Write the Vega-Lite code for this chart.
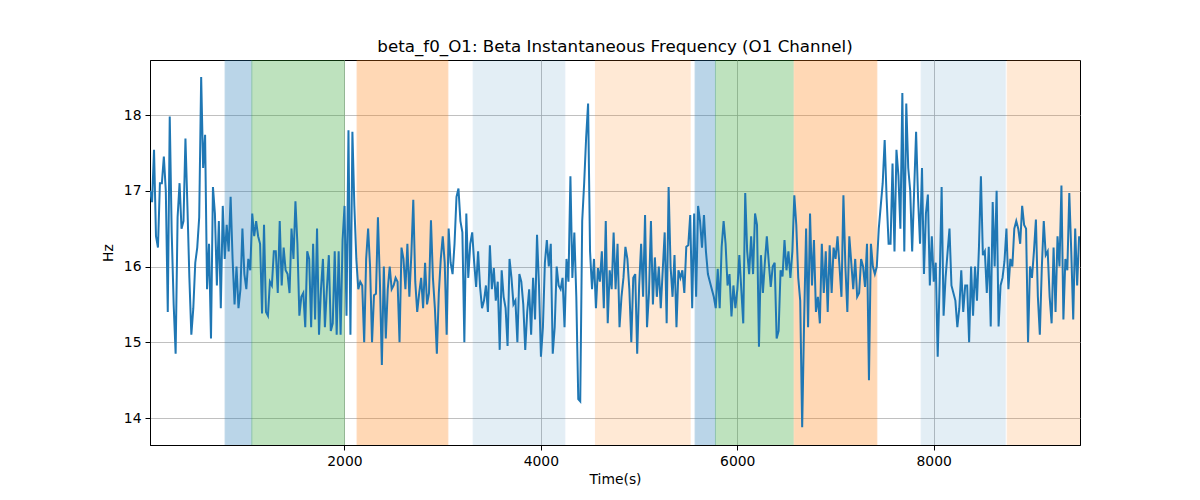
{
  "$schema": "https://vega.github.io/schema/vega-lite/v6.json",
  "width": 930,
  "height": 385,
  "autosize": "none",
  "padding": {"left": 150, "top": 60, "right": 120, "bottom": 55},
  "background": "white",
  "config": {
    "font": "DejaVu Sans",
    "view": {"stroke": "black", "strokeWidth": 1},
    "axis": {
      "domainColor": "black",
      "tickColor": "black",
      "tickSize": 5,
      "labelFontSize": 13.9,
      "labelColor": "black",
      "labelFont": "DejaVu Sans",
      "labelPadding": 4,
      "titleFontSize": 13.9,
      "titleFontWeight": "normal",
      "titleColor": "black",
      "titleFont": "DejaVu Sans",
      "gridColor": "#b0b0b0",
      "gridWidth": 0.8
    }
  },
  "title": {
    "text": "beta_f0_O1: Beta Instantaneous Frequency (O1 Channel)",
    "fontSize": 16.7,
    "fontWeight": "normal",
    "font": "DejaVu Sans",
    "color": "black",
    "offset": 4
  },
  "datasets": {
    "spans": [
      {"start": 785, "end": 1057, "kind": "blue"},
      {"start": 1057, "end": 2000, "kind": "green"},
      {"start": 2129, "end": 3053, "kind": "orange"},
      {"start": 3311, "end": 4244, "kind": "blue_light"},
      {"start": 4556, "end": 5520, "kind": "orange_light"},
      {"start": 5571, "end": 5778, "kind": "blue"},
      {"start": 5778, "end": 6569, "kind": "green"},
      {"start": 6580, "end": 7421, "kind": "orange"},
      {"start": 7873, "end": 8728, "kind": "blue_light"},
      {"start": 8749, "end": 9490, "kind": "orange_light"}
    ],
    "series": [
      {"t":21,"hz":17.0},{"t":41,"hz":16.85},{"t":61,"hz":17.54},{"t":81,"hz":16.4},{"t":101,"hz":16.25},{"t":121,"hz":17.1},{"t":141,"hz":17.1},{"t":161,"hz":17.45},{"t":181,"hz":17.0},{"t":201,"hz":15.4},
      {"t":221,"hz":17.98},{"t":241,"hz":16.45},{"t":261,"hz":15.5},{"t":281,"hz":14.85},{"t":301,"hz":16.65},{"t":321,"hz":17.1},{"t":341,"hz":16.5},{"t":361,"hz":16.6},{"t":381,"hz":17.69},{"t":401,"hz":16.8},
      {"t":421,"hz":15.85},{"t":441,"hz":15.1},{"t":461,"hz":15.45},{"t":481,"hz":16.05},{"t":501,"hz":16.25},{"t":521,"hz":16.65},{"t":541,"hz":18.5},{"t":561,"hz":17.3},{"t":581,"hz":17.74},{"t":601,"hz":15.7},
      {"t":621,"hz":16.3},{"t":641,"hz":15.05},{"t":661,"hz":17.05},{"t":681,"hz":16.7},{"t":701,"hz":15.75},{"t":721,"hz":16.6},{"t":741,"hz":15.45},{"t":761,"hz":16.8},{"t":781,"hz":16.1},{"t":801,"hz":16.55},
      {"t":821,"hz":16.2},{"t":841,"hz":16.92},{"t":861,"hz":16.1},{"t":881,"hz":15.5},{"t":901,"hz":16.0},{"t":921,"hz":15.45},{"t":941,"hz":15.7},{"t":961,"hz":16.5},{"t":981,"hz":15.9},{"t":1001,"hz":15.7},
      {"t":1021,"hz":16.1},{"t":1041,"hz":15.95},{"t":1061,"hz":16.7},{"t":1081,"hz":16.4},{"t":1101,"hz":16.6},{"t":1121,"hz":16.4},{"t":1141,"hz":16.3},{"t":1161,"hz":15.38},{"t":1181,"hz":16.55},{"t":1201,"hz":15.4},
      {"t":1221,"hz":15.35},{"t":1241,"hz":15.8},{"t":1261,"hz":15.75},{"t":1281,"hz":16.2},{"t":1301,"hz":16.2},{"t":1321,"hz":15.65},{"t":1341,"hz":16.6},{"t":1361,"hz":15.75},{"t":1381,"hz":16.25},{"t":1401,"hz":15.95},
      {"t":1421,"hz":15.9},{"t":1441,"hz":15.65},{"t":1461,"hz":16.5},{"t":1481,"hz":16.1},{"t":1501,"hz":16.86},{"t":1521,"hz":16.3},{"t":1541,"hz":15.35},{"t":1561,"hz":15.6},{"t":1581,"hz":15.65},{"t":1601,"hz":15.2},
      {"t":1621,"hz":16.2},{"t":1641,"hz":16.1},{"t":1661,"hz":15.2},{"t":1681,"hz":16.3},{"t":1701,"hz":15.3},{"t":1721,"hz":16.5},{"t":1741,"hz":15.1},{"t":1761,"hz":15.7},{"t":1781,"hz":16.1},{"t":1801,"hz":15.2},
      {"t":1821,"hz":15.7},{"t":1841,"hz":16.15},{"t":1861,"hz":15.15},{"t":1881,"hz":15.25},{"t":1901,"hz":16.2},{"t":1921,"hz":15.1},{"t":1941,"hz":16.2},{"t":1961,"hz":15.1},{"t":1981,"hz":16.35},{"t":2001,"hz":16.8},
      {"t":2021,"hz":15.35},{"t":2041,"hz":17.8},{"t":2061,"hz":15.1},{"t":2081,"hz":17.78},{"t":2101,"hz":16.8},{"t":2121,"hz":16.1},{"t":2141,"hz":15.7},{"t":2161,"hz":15.8},{"t":2181,"hz":15.75},{"t":2201,"hz":15.0},
      {"t":2221,"hz":16.1},{"t":2241,"hz":16.5},{"t":2261,"hz":16.0},{"t":2281,"hz":15.0},{"t":2301,"hz":15.62},{"t":2321,"hz":15.64},{"t":2341,"hz":16.65},{"t":2361,"hz":15.8},{"t":2381,"hz":14.7},{"t":2401,"hz":16.0},
      {"t":2421,"hz":15.05},{"t":2441,"hz":15.7},{"t":2461,"hz":16.0},{"t":2481,"hz":15.7},{"t":2501,"hz":15.75},{"t":2521,"hz":15.85},{"t":2541,"hz":15.8},{"t":2561,"hz":15.0},{"t":2581,"hz":16.25},{"t":2601,"hz":16.1},
      {"t":2621,"hz":15.7},{"t":2641,"hz":16.3},{"t":2661,"hz":15.6},{"t":2681,"hz":16.15},{"t":2701,"hz":16.88},{"t":2721,"hz":15.8},{"t":2741,"hz":15.4},{"t":2761,"hz":15.65},{"t":2781,"hz":15.85},{"t":2801,"hz":15.45},
      {"t":2821,"hz":16.05},{"t":2841,"hz":15.5},{"t":2861,"hz":15.65},{"t":2881,"hz":16.61},{"t":2901,"hz":15.85},{"t":2921,"hz":15.45},{"t":2941,"hz":14.85},{"t":2961,"hz":15.65},{"t":2981,"hz":16.1},{"t":3001,"hz":16.4},
      {"t":3021,"hz":16.05},{"t":3041,"hz":15.1},{"t":3061,"hz":16.5},{"t":3081,"hz":16.05},{"t":3101,"hz":15.9},{"t":3121,"hz":16.3},{"t":3141,"hz":16.92},{"t":3161,"hz":17.03},{"t":3181,"hz":16.6},{"t":3201,"hz":16.45},
      {"t":3221,"hz":15.0},{"t":3241,"hz":16.7},{"t":3261,"hz":15.85},{"t":3281,"hz":16.3},{"t":3301,"hz":16.45},{"t":3321,"hz":16.05},{"t":3341,"hz":15.73},{"t":3361,"hz":16.2},{"t":3381,"hz":15.73},{"t":3401,"hz":15.45},
      {"t":3421,"hz":15.55},{"t":3441,"hz":15.75},{"t":3461,"hz":15.4},{"t":3481,"hz":16.28},{"t":3501,"hz":15.7},{"t":3521,"hz":15.98},{"t":3541,"hz":15.55},{"t":3561,"hz":15.8},{"t":3581,"hz":14.9},{"t":3601,"hz":15.95},
      {"t":3621,"hz":15.6},{"t":3641,"hz":15.45},{"t":3661,"hz":14.95},{"t":3681,"hz":16.1},{"t":3701,"hz":15.85},{"t":3721,"hz":15.5},{"t":3741,"hz":15.55},{"t":3761,"hz":15.0},{"t":3781,"hz":15.9},{"t":3801,"hz":15.8},
      {"t":3821,"hz":15.5},{"t":3841,"hz":14.9},{"t":3861,"hz":15.4},{"t":3881,"hz":15.7},{"t":3901,"hz":15.1},{"t":3921,"hz":15.85},{"t":3941,"hz":15.3},{"t":3961,"hz":16.42},{"t":3981,"hz":15.75},{"t":4001,"hz":14.81},
      {"t":4021,"hz":15.2},{"t":4041,"hz":16.05},{"t":4061,"hz":16.35},{"t":4081,"hz":16.0},{"t":4101,"hz":16.3},{"t":4121,"hz":14.85},{"t":4141,"hz":15.2},{"t":4161,"hz":16.0},{"t":4181,"hz":15.75},{"t":4201,"hz":15.7},
      {"t":4221,"hz":15.85},{"t":4241,"hz":15.2},{"t":4261,"hz":16.1},{"t":4281,"hz":15.8},{"t":4301,"hz":17.19},{"t":4321,"hz":15.85},{"t":4341,"hz":16.45},{"t":4361,"hz":15.6},{"t":4381,"hz":14.25},{"t":4401,"hz":14.22},
      {"t":4421,"hz":16.6},{"t":4441,"hz":17.1},{"t":4461,"hz":17.7},{"t":4481,"hz":18.15},{"t":4501,"hz":16.2},{"t":4521,"hz":15.7},{"t":4541,"hz":16.1},{"t":4561,"hz":15.45},{"t":4581,"hz":15.98},{"t":4601,"hz":15.8},
      {"t":4621,"hz":16.2},{"t":4641,"hz":15.45},{"t":4661,"hz":16.6},{"t":4681,"hz":15.25},{"t":4701,"hz":15.95},{"t":4721,"hz":15.7},{"t":4741,"hz":16.45},{"t":4761,"hz":15.7},{"t":4781,"hz":16.3},{"t":4801,"hz":15.2},
      {"t":4821,"hz":15.6},{"t":4841,"hz":15.85},{"t":4861,"hz":16.26},{"t":4881,"hz":16.1},{"t":4901,"hz":15.7},{"t":4921,"hz":15.0},{"t":4941,"hz":15.85},{"t":4961,"hz":15.9},{"t":4981,"hz":14.85},{"t":5001,"hz":15.75},
      {"t":5021,"hz":16.3},{"t":5041,"hz":15.6},{"t":5061,"hz":16.68},{"t":5081,"hz":15.2},{"t":5101,"hz":15.65},{"t":5121,"hz":16.6},{"t":5141,"hz":15.5},{"t":5161,"hz":16.12},{"t":5181,"hz":15.6},{"t":5201,"hz":16.0},
      {"t":5221,"hz":15.45},{"t":5241,"hz":15.95},{"t":5261,"hz":16.45},{"t":5281,"hz":15.25},{"t":5301,"hz":17.05},{"t":5321,"hz":16.0},{"t":5341,"hz":15.6},{"t":5361,"hz":16.15},{"t":5381,"hz":15.2},{"t":5401,"hz":15.95},
      {"t":5421,"hz":15.85},{"t":5441,"hz":15.95},{"t":5461,"hz":15.65},{"t":5481,"hz":16.26},{"t":5501,"hz":16.28},{"t":5521,"hz":16.68},{"t":5541,"hz":15.45},{"t":5561,"hz":16.7},{"t":5581,"hz":15.6},{"t":5601,"hz":16.8},
      {"t":5621,"hz":16.6},{"t":5641,"hz":16.25},{"t":5661,"hz":16.68},{"t":5681,"hz":16.2},{"t":5701,"hz":15.9},{"t":5721,"hz":15.8},{"t":5741,"hz":15.7},{"t":5761,"hz":15.6},{"t":5781,"hz":15.45},{"t":5801,"hz":15.97},
      {"t":5821,"hz":15.45},{"t":5841,"hz":16.26},{"t":5861,"hz":16.6},{"t":5881,"hz":16.3},{"t":5901,"hz":15.75},{"t":5921,"hz":15.9},{"t":5941,"hz":15.34},{"t":5961,"hz":15.75},{"t":5981,"hz":15.45},{"t":6001,"hz":15.7},
      {"t":6021,"hz":16.15},{"t":6041,"hz":15.7},{"t":6061,"hz":15.25},{"t":6081,"hz":16.97},{"t":6101,"hz":16.2},{"t":6121,"hz":15.9},{"t":6141,"hz":16.4},{"t":6161,"hz":15.9},{"t":6181,"hz":16.7},{"t":6201,"hz":16.55},
      {"t":6221,"hz":14.94},{"t":6241,"hz":16.15},{"t":6261,"hz":15.65},{"t":6281,"hz":16.05},{"t":6301,"hz":16.4},{"t":6321,"hz":16.05},{"t":6341,"hz":15.73},{"t":6361,"hz":16.0},{"t":6381,"hz":16.05},{"t":6401,"hz":15.05},
      {"t":6421,"hz":15.15},{"t":6441,"hz":15.95},{"t":6461,"hz":15.87},{"t":6481,"hz":16.35},{"t":6501,"hz":15.95},{"t":6521,"hz":16.2},{"t":6541,"hz":15.85},{"t":6561,"hz":16.2},{"t":6581,"hz":16.94},{"t":6601,"hz":16.55},
      {"t":6621,"hz":15.85},{"t":6641,"hz":15.55},{"t":6661,"hz":13.88},{"t":6681,"hz":15.3},{"t":6701,"hz":16.5},{"t":6721,"hz":15.2},{"t":6741,"hz":16.7},{"t":6761,"hz":15.75},{"t":6781,"hz":16.35},{"t":6801,"hz":15.4},
      {"t":6821,"hz":15.6},{"t":6841,"hz":15.25},{"t":6861,"hz":16.3},{"t":6881,"hz":15.65},{"t":6901,"hz":16.2},{"t":6921,"hz":15.4},{"t":6941,"hz":16.28},{"t":6961,"hz":15.65},{"t":6981,"hz":16.25},{"t":7001,"hz":16.1},
      {"t":7021,"hz":16.4},{"t":7041,"hz":16.0},{"t":7061,"hz":15.6},{"t":7081,"hz":16.94},{"t":7101,"hz":16.0},{"t":7121,"hz":15.4},{"t":7141,"hz":16.4},{"t":7161,"hz":16.05},{"t":7181,"hz":15.7},{"t":7201,"hz":16.1},
      {"t":7221,"hz":15.6},{"t":7241,"hz":15.65},{"t":7261,"hz":16.1},{"t":7281,"hz":16.0},{"t":7301,"hz":15.73},{"t":7321,"hz":16.3},{"t":7341,"hz":14.5},{"t":7361,"hz":16.3},{"t":7381,"hz":16.0},{"t":7401,"hz":15.9},
      {"t":7421,"hz":16.0},{"t":7441,"hz":16.5},{"t":7461,"hz":16.8},{"t":7481,"hz":17.1},{"t":7501,"hz":17.67},{"t":7521,"hz":16.9},{"t":7541,"hz":16.3},{"t":7561,"hz":16.3},{"t":7581,"hz":17.36},{"t":7601,"hz":16.2},
      {"t":7621,"hz":17.54},{"t":7641,"hz":17.2},{"t":7661,"hz":16.5},{"t":7681,"hz":18.29},{"t":7701,"hz":16.2},{"t":7721,"hz":18.15},{"t":7741,"hz":17.3},{"t":7761,"hz":17.0},{"t":7781,"hz":16.2},{"t":7801,"hz":17.0},
      {"t":7821,"hz":17.78},{"t":7841,"hz":16.9},{"t":7861,"hz":16.3},{"t":7881,"hz":17.3},{"t":7901,"hz":15.9},{"t":7921,"hz":16.7},{"t":7941,"hz":16.95},{"t":7961,"hz":15.75},{"t":7981,"hz":16.4},{"t":8001,"hz":15.8},
      {"t":8021,"hz":16.05},{"t":8041,"hz":14.81},{"t":8061,"hz":15.8},{"t":8081,"hz":17.05},{"t":8101,"hz":15.35},{"t":8121,"hz":15.85},{"t":8141,"hz":16.18},{"t":8161,"hz":16.5},{"t":8181,"hz":15.75},{"t":8201,"hz":15.65},
      {"t":8221,"hz":15.55},{"t":8241,"hz":15.2},{"t":8261,"hz":15.45},{"t":8281,"hz":15.95},{"t":8301,"hz":15.4},{"t":8321,"hz":15.75},{"t":8341,"hz":15.75},{"t":8361,"hz":15.0},{"t":8381,"hz":16.0},{"t":8401,"hz":15.35},
      {"t":8421,"hz":16.0},{"t":8441,"hz":15.55},{"t":8461,"hz":16.25},{"t":8481,"hz":17.19},{"t":8501,"hz":16.15},{"t":8521,"hz":16.2},{"t":8541,"hz":15.65},{"t":8561,"hz":16.26},{"t":8581,"hz":15.21},{"t":8601,"hz":16.85},
      {"t":8621,"hz":16.0},{"t":8641,"hz":17.0},{"t":8661,"hz":15.21},{"t":8681,"hz":15.75},{"t":8701,"hz":15.85},{"t":8721,"hz":16.07},{"t":8741,"hz":16.5},{"t":8761,"hz":15.7},{"t":8781,"hz":16.1},{"t":8801,"hz":16.0},
      {"t":8821,"hz":16.5},{"t":8841,"hz":16.6},{"t":8861,"hz":16.5},{"t":8881,"hz":16.3},{"t":8901,"hz":16.8},{"t":8921,"hz":16.55},{"t":8941,"hz":16.5},{"t":8961,"hz":15.0},{"t":8981,"hz":16.0},{"t":9001,"hz":15.85},
      {"t":9021,"hz":16.2},{"t":9041,"hz":16.62},{"t":9061,"hz":15.6},{"t":9081,"hz":15.1},{"t":9101,"hz":15.98},{"t":9121,"hz":16.6},{"t":9141,"hz":16.15},{"t":9161,"hz":16.2},{"t":9181,"hz":15.6},{"t":9201,"hz":15.25},
      {"t":9221,"hz":16.25},{"t":9241,"hz":15.4},{"t":9261,"hz":16.4},{"t":9281,"hz":16.0},{"t":9301,"hz":17.07},{"t":9321,"hz":15.3},{"t":9341,"hz":16.1},{"t":9361,"hz":15.95},{"t":9381,"hz":16.97},{"t":9401,"hz":16.2},
      {"t":9421,"hz":15.3},{"t":9441,"hz":16.5},{"t":9461,"hz":15.75},{"t":9481,"hz":16.4}
    ]
  },
  "layer": [
    {
      "data": {"name": "spans"},
      "mark": {"type": "rect", "strokeWidth": 1, "clip": true},
      "encoding": {
        "x": {
          "field": "start",
          "type": "quantitative",
          "scale": {"domain": [20, 9490], "nice": false, "zero": false},
          "axis": {"values": [2000, 4000, 6000, 8000], "format": "d", "grid": true, "title": "Time(s)", "titlePadding": 5}
        },
        "x2": {"field": "end"},
        "color": {
          "field": "kind",
          "type": "nominal",
          "scale": {
            "type": "ordinal",
            "domain": ["blue", "green", "orange", "blue_light", "orange_light"],
            "range": ["#1f77b4", "#2ca02c", "#ff7f0e", "#1f77b4", "#ff7f0e"]
          },
          "legend": null
        },
        "stroke": {
          "field": "kind",
          "type": "nominal",
          "scale": {
            "type": "ordinal",
            "domain": ["blue", "green", "orange", "blue_light", "orange_light"],
            "range": ["#1f77b4", "#2ca02c", "#ff7f0e", "#1f77b4", "#ff7f0e"]
          },
          "legend": null
        },
        "opacity": {
          "field": "kind",
          "type": "nominal",
          "scale": {
            "type": "ordinal",
            "domain": ["blue", "green", "orange", "blue_light", "orange_light"],
            "range": [0.3, 0.3, 0.3, 0.12, 0.17]
          },
          "legend": null
        }
      }
    },
    {
      "data": {"name": "series"},
      "mark": {"type": "line", "color": "#1f77b4", "strokeWidth": 2, "clip": true},
      "encoding": {
        "x": {"field": "t", "type": "quantitative"},
        "y": {
          "field": "hz",
          "type": "quantitative",
          "scale": {"domain": [13.644, 18.726], "nice": false, "zero": false},
          "axis": {"values": [14, 15, 16, 17, 18], "grid": true, "title": "Hz", "titlePadding": 8}
        }
      }
    }
  ]
}
